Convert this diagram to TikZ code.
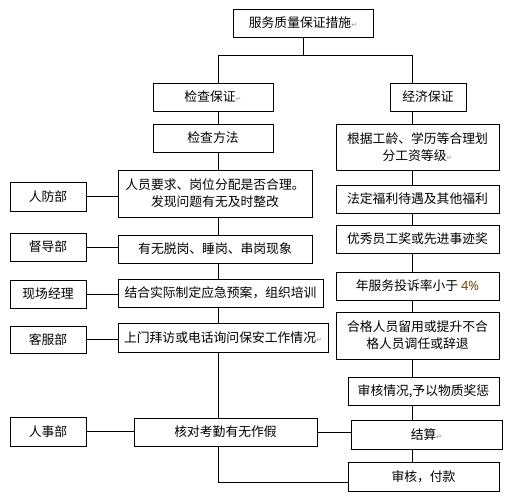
\documentclass[tikz,border=0pt]{standalone}
\usepackage{fontspec}
\usepackage{tikz}
\usetikzlibrary{positioning,calc}
\newfontfamily\cjk{Noto Sans CJK SC}
\newfontfamily\symfont{DejaVu Sans}
\definecolor{markgray}{RGB}{150,150,150}
\definecolor{pctcol}{RGB}{110,70,20}
\newcommand{\pmark}{{\symfont\color{markgray}\fontsize{7}{7}\selectfont ↵}}
\tikzset{
  box/.style={draw=black, line width=0.9pt, inner sep=0pt, align=center,
              font=\cjk\fontsize{12.8}{17}\selectfont, minimum height=28pt},
  dept/.style={box, minimum width=76pt},
  link/.style={draw=black, line width=0.9pt},
}

\begin{document}
\begin{tikzpicture}[x=1pt, y=-1pt]
    \useasboundingbox (0,0) rectangle (506,499);
    % spines
    \coordinate (lx) at (218,0);
    \coordinate (rx) at (412.5,0);
    \coordinate (bus) at (0,55);
    \coordinate (bot) at (0,482);
    % top
    \node[box, minimum width=140pt] (top) at (303,23) {服务质量保证措施\pmark};
    \node[box, minimum width=120pt] (jc) at (213,97) {检查保证\pmark};
    \node[box, minimum width=76pt] (jj) at (428,97) {经济保证};
    % left column
    \node[box, minimum width=120pt] (ff) at (213,138) {检查方法};
    \node[box, minimum width=194pt, minimum height=47pt] (ry) at (215,193.5)
      {人员要求、岗位分配是否合理。\\发现问题有无及时整改};
    \node[box, minimum width=194pt] (tg) at (215,249) {有无脱岗、睡岗、串岗现象};
    \node[box, minimum width=205pt] (jh) at (220.5,293) {结合实际制定应急预案，组织培训};
    \node[box, minimum width=210pt, minimum height=29pt] (sm) at (223,337.5)
      {上门拜访或电话询问保安工作情况\pmark};
    \node[box, minimum width=183pt] (hd) at (225.5,432) {核对考勤有无作假};
    % departments
    \node[dept, minimum height=29pt] (rf) at (48,196.5) {人防部};
    \node[dept] (dd) at (48,247) {督导部};
    \node[dept] (xc) at (48,294) {现场经理};
    \node[dept, minimum height=27pt] (kf) at (48,339.5) {客服部};
    \node[dept, minimum height=29pt] (rs) at (48,431.5) {人事部};
    % right column
    \node[box, minimum width=163pt, minimum height=46pt] (gj) at (417.5,147)
      {根据工龄、学历等合理划\\分工资等级\pmark};
    \node[box, minimum width=163pt] (fl) at (417.5,199) {法定福利待遇及其他福利};
    \node[box, minimum width=163pt] (yx) at (417.5,239) {优秀员工奖或先进事迹奖};
    \node[box, minimum width=163pt] (nf) at (417.5,286)
      {年服务投诉率小于 {\fontspec{Noto Sans}\bfseries\color{pctcol}4\%}};
    \node[box, minimum width=163pt, minimum height=47pt] (hg) at (417.5,335.5)
      {合格人员留用或提升不合\\格人员调任或辞退};
    \node[box, minimum width=151pt] (sh) at (423.5,391) {审核情况,予以物质奖惩};
    \node[box, minimum width=151pt, minimum height=29pt] (js) at (426.5,434.5) {结算\pmark};
    \node[box, minimum width=151pt, minimum height=29pt] (fk) at (423.5,476.5) {审核，付款};
    % connectors
    \draw[link] (top.south) -- (top.south |- bus);
    \draw[link] (jc.north -| lx) |- (bus -| rx) -- (jj.north -| rx);
    \foreach \a/\b in {jc/ff,ff/ry,ry/tg,tg/jh,jh/sm,sm/hd}
      \draw[link] (\a.south -| lx) -- (\b.north -| lx);
    \foreach \a/\b in {jj/gj,gj/fl,fl/yx,yx/nf,nf/hg,hg/sh,sh/js,js/fk}
      \draw[link] (\a.south -| rx) -- (\b.north -| rx);
    \foreach \a/\b in {rf/ry,dd/tg,xc/jh,kf/sm,rs/hd}
      \draw[link] (\a.east) -- (\a.east -| \b.west);
    \draw[link] (hd.east) -- (hd.east -| js.west);
    \draw[link] (hd.south -| lx) -- (lx |- bot) -- (fk.west |- bot);
\end{tikzpicture}
\end{document}
